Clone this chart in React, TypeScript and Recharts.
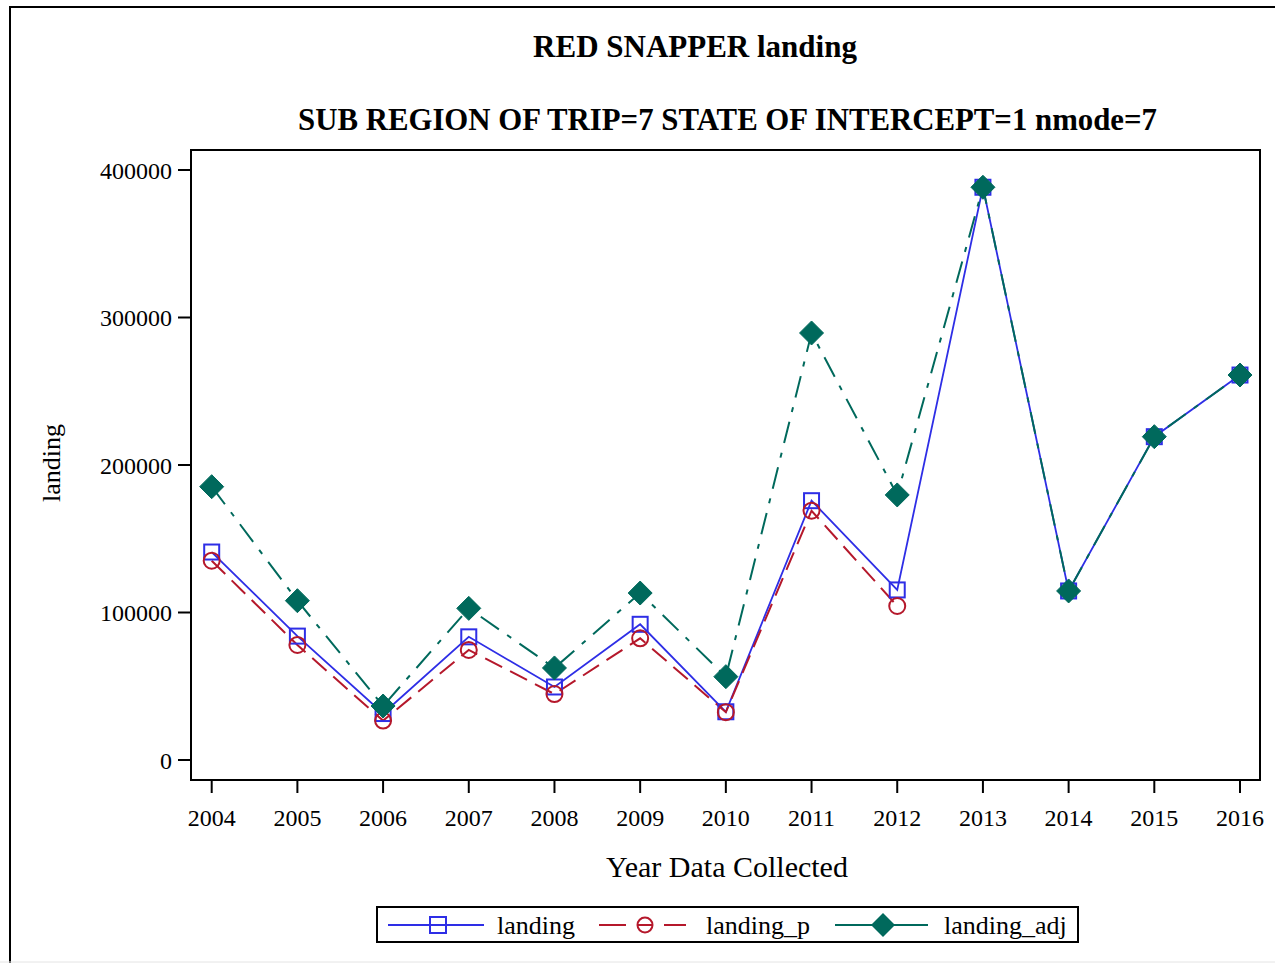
import React from "react";
import { LineChart, Line, XAxis, YAxis } from "recharts";

// values
const years = [2004, 2005, 2006, 2007, 2008, 2009, 2010, 2011, 2012, 2013, 2014, 2015, 2016];
const landing = [141000, 84000, 31500, 83500, 49500, 92000, 32700, 175800, 115300, 388300, 114600, 219200, 261000];
const landingP = [135100, 78000, 26700, 74600, 44700, 82500, 32400, 169000, 104400, null, null, null, null];
const landingAdj = [185300, 108000, 36600, 102800, 62400, 113200, 56500, 289500, 179700, 388300, 114600, 219200, 261000];
const yTicks = [0, 100000, 200000, 300000, 400000];

const BLUE = "#2E2EE6";
const RED = "#B5182B";
const GREEN = "#00695C";
const FONT = "'Liberation Serif', 'Times New Roman', serif";

const data = years.map((year, i) => ({
	year,
	landing: landing[i],
	landing_p: landingP[i],
	landing_adj: landingAdj[i],
}));

const SquareDot = (props: any) => {
	const { cx, cy, index } = props;
	if (cx == null || cy == null) return <g key={`sq-${index}`} />;
	return <rect key={`sq-${index}`} x={cx - 7.5} y={cy - 7.5} width={15} height={15} fill='none' stroke={BLUE} strokeWidth={2} />;
};

const CircleDot = (props: any) => {
	const { cx, cy, index, payload } = props;
	if (cx == null || cy == null || payload?.landing_p == null) return <g key={`ci-${index}`} />;
	return <circle key={`ci-${index}`} cx={cx} cy={cy} r={8} fill='none' stroke={RED} strokeWidth={2} />;
};

const DiamondDot = (props: any) => {
	const { cx, cy, index } = props;
	if (cx == null || cy == null) return <g key={`di-${index}`} />;
	const r = 12;
	return <path key={`di-${index}`} d={`M${cx},${cy - r} L${cx + r},${cy} L${cx},${cy + r} L${cx - r},${cy} Z`} fill={GREEN} stroke={GREEN} strokeWidth={1} />;
};

export default function App() {
	const tickStyle = { fill: "#000", fontSize: 24, fontFamily: FONT };

	return (
		<div style={{ position: "absolute", left: 0, top: 0, width: 1275, height: 963, overflow: "hidden", background: "#fff" }}>
			<LineChart width={1275} height={963} data={data} margin={{ top: 150, right: 15, bottom: 0, left: 0 }}>
				<XAxis
					dataKey='year'
					type='number'
					domain={[2004, 2016]}
					ticks={years}
					interval={0}
					padding={{ left: 20.7, right: 20 }}
					height={183}
					axisLine={false}
					tickLine={{ stroke: "#000", strokeWidth: 2 }}
					tickSize={13}
					tickMargin={16}
					tick={tickStyle}
				/>
				<YAxis
					type='number'
					domain={[0, 400000]}
					ticks={yTicks}
					interval={0}
					padding={{ top: 20, bottom: 20 }}
					width={191}
					axisLine={false}
					tickLine={{ stroke: "#000", strokeWidth: 2 }}
					tickSize={13}
					tickMargin={6}
					tick={tickStyle}
				/>
				<Line dataKey='landing' stroke={BLUE} strokeWidth={1.8} dot={SquareDot} activeDot={false} isAnimationActive={false} />
				<Line dataKey='landing_p' stroke={RED} strokeWidth={2} strokeDasharray='19 9' dot={CircleDot} activeDot={false} isAnimationActive={false} />
				<Line dataKey='landing_adj' stroke={GREEN} strokeWidth={2} strokeDasharray='22 10 5 10' dot={DiamondDot} activeDot={false} isAnimationActive={false} />
			</LineChart>

			<svg width={1275} height={963} style={{ position: "absolute", left: 0, top: 0, pointerEvents: "none" }}>
				{/* outer frame */}
				<path d='M10,963 V7 H1280' fill='none' stroke='#000' strokeWidth={2} />
				<line x1={0} y1={962} x2={1275} y2={962} stroke='#e4e4e4' strokeWidth={1} />
				{/* plot frame */}
				<rect x={191} y={150} width={1069} height={630} fill='none' stroke='#000' strokeWidth={2} />

				<text x={695} y={57} textAnchor='middle' fontFamily={FONT} fontWeight='bold' fontSize={31}>
					RED SNAPPER landing
				</text>
				<text x={727.5} y={130} textAnchor='middle' fontFamily={FONT} fontWeight='bold' fontSize={30.8}>
					SUB REGION OF TRIP=7 STATE OF INTERCEPT=1 nmode=7
				</text>
				<text x={60} y={463} textAnchor='middle' fontFamily={FONT} fontSize={26} transform='rotate(-90 60 463)'>
					landing
				</text>
				<text x={727} y={877} textAnchor='middle' fontFamily={FONT} fontSize={30}>
					Year Data Collected
				</text>

				{/* legend */}
				<rect x={377} y={907} width={701} height={35} fill='#fff' stroke='#000' strokeWidth={2} />
				<line x1={388} y1={925} x2={484} y2={925} stroke={BLUE} strokeWidth={2} />
				<rect x={430} y={917} width={16} height={16} fill='none' stroke={BLUE} strokeWidth={2} />
				<text x={497} y={934} fontFamily={FONT} fontSize={26}>landing</text>

				<line x1={599} y1={925} x2={626} y2={925} stroke={RED} strokeWidth={2} />
				<line x1={638} y1={925} x2={652} y2={925} stroke={RED} strokeWidth={2} />
				<line x1={664} y1={925} x2={686} y2={925} stroke={RED} strokeWidth={2} />
				<circle cx={645} cy={925} r={7.5} fill='none' stroke={RED} strokeWidth={2} />
				<text x={706} y={934} fontFamily={FONT} fontSize={26}>landing_p</text>

				<line x1={835} y1={925} x2={928} y2={925} stroke={GREEN} strokeWidth={2} />
				<path d='M883,913 L895,925 L883,937 L871,925 Z' fill={GREEN} />
				<text x={944} y={934} fontFamily={FONT} fontSize={26}>landing_adj</text>
			</svg>
		</div>
	);
}
